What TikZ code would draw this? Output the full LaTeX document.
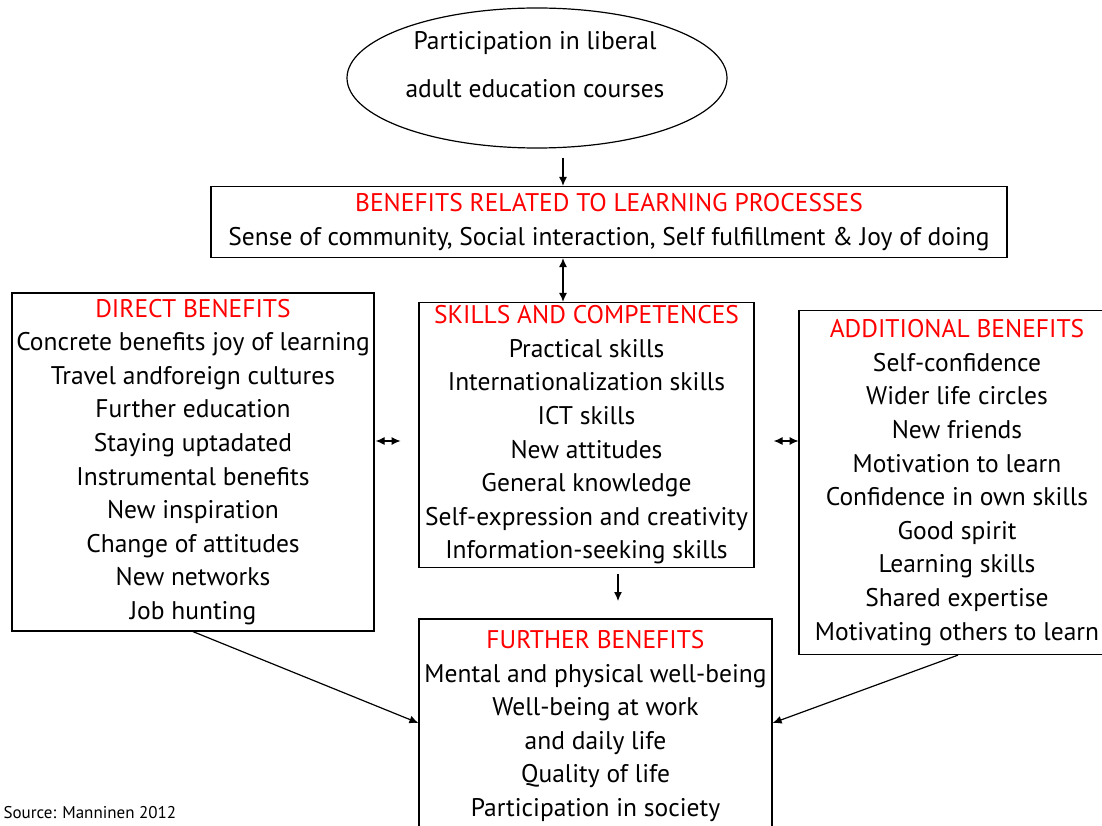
\documentclass[tikz,border=0pt]{standalone}
\usepackage{fontspec}
\setmainfont{PT Sans}
\usetikzlibrary{arrows.meta}
\usetikzlibrary{shapes.geometric}

\newcommand{\boxtitle}[1]{\textcolor{red}{#1}}

\begin{document}
\begin{tikzpicture}[x=1pt,y=-1pt,>={Latex[length=9pt,width=8pt]},line width=1.2pt,
    box/.style={draw,align=center,inner sep=0pt,font=\fontsize{25.5}{33.6}\selectfont}]
            \useasboundingbox (0,0) rectangle (1102,826);
            %%%%%%%%%%%%%%%%%%%%%%%%%%%%%%%%%%%%%%%%%%courses
            \node[draw,ellipse,minimum width=380,minimum height=140,inner sep=0pt](course) at (537,78){};
            \node[align=center,font=\fontsize{25.5}{48}\selectfont](coursetext) at (535,65){Participation in liberal\\adult education courses};
            %%%%%%%%%%%%%%%%%%%%%%%%%%%%%%%%%%%%%%%%%%boxes
            \node[box,minimum width=796,minimum height=71](learn) at (609,222)
            {\boxtitle{BENEFITS RELATED TO LEARNING PROCESSES}\\
             Sense of community, Social interaction, Self fulfillment \& Joy of doing};
            \node[box,minimum width=362,minimum height=338](direct) at (193,462)
            {\boxtitle{DIRECT BENEFITS}\\
             Concrete benefits joy of learning\\
             Travel andforeign cultures\\
             Further education\\
             Staying uptadated\\
             Instrumental benefits\\
             New inspiration\\
             Change of attitudes\\
             New networks\\
             Job hunting};
            \node[box,minimum width=335,minimum height=265](skills) at (586.5,435)
            {\boxtitle{SKILLS AND COMPETENCES}\\
             Practical skills\\
             Internationalization skills\\
             ICT skills\\
             New attitudes\\
             General knowledge\\
             Self-expression and creativity\\
             Information-seeking skills};
            \node[box,minimum width=316,minimum height=344](extra) at (957,482.5)
            {\boxtitle{ADDITIONAL BENEFITS}\\
             Self-confidence\\
             Wider life circles\\
             New friends\\
             Motivation to learn\\
             Confidence in own skills\\
             Good spirit\\
             Learning skills\\
             Shared expertise\\
             Motivating others to learn};
            \node[box,minimum width=353,minimum height=214](further) at (595.5,726)
            {\boxtitle{FURTHER BENEFITS}\\
             Mental and physical well-being\\
             Well-being at work\\
             and daily life\\
             Quality of life\\
             Participation in society};
            %%%%%%%%%%%%%%%%%%%%%%%%%%%%%%%%%%%%%%%%%%arrows
            \coordinate (a1) at (563,158);
            \coordinate (a2) at (563,0);
            \coordinate (a3) at (618,574);
            \draw[->] (a1) -- (a1 |- learn.north);
            \draw[<->] (learn.south -| a2) -- (skills.north -| a2);
            \draw[->] (a3) -- ++(0,27);
            \foreach \n/\x in {direct/1,skills/19}
            {
                \draw[<->] (\n.east |- 0,441) ++(\x,0) -- ++(25,0);
            }
            \draw[->] (direct.south -| 193,0) -- (further.west |- 0,723);
            \draw[->] (extra.south -| 958,0) -- (further.east |- 0,723);
            %%%%%%%%%%%%%%%%%%%%%%%%%%%%%%%%%%%%%%%%%%source
            \node[anchor=base west,inner sep=0pt,font=\fontsize{17}{20}\selectfont](source) at (3,818){Source: Manninen 2012};
        \end{tikzpicture}
\end{document}
